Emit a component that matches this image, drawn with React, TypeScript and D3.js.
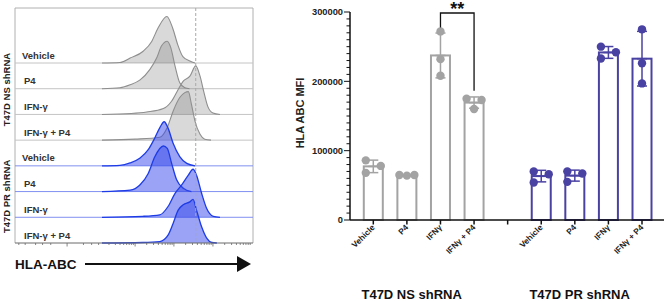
import React from 'react';
import * as d3 from 'd3';

// ---------------- Left panel: flow cytometry histograms ----------------
const rowLabels = ['Vehicle', 'P4', 'IFN-γ', 'IFN-γ + P4'];
const panelGroups = ['T47D NS shRNA', 'T47D PR shRNA'];
const axisTitle = 'HLA-ABC';

// [log10 HLA-ABC intensity, % of modal count]
const nsVehicleHist = [[2.1, 0], [2.6, 1], [2.87, 10], [3.21, 24], [3.43, 44], [3.59, 71], [3.82, 95], [3.97, 71], [4.1, 37], [4.23, 13], [4.41, 4], [4.54, 0]];
const nsP4Hist = [[2.1, 0], [2.6, 2], [2.87, 8], [3.13, 18], [3.38, 39], [3.56, 63], [3.68, 87], [3.83, 97], [3.92, 84], [4.03, 46], [4.15, 12], [4.28, 2], [4.4, 0]];
const nsIfnHist = [[2.1, 0], [2.9, 2], [3.3, 5], [3.73, 12], [3.94, 27], [4.11, 51], [4.24, 68], [4.41, 78], [4.56, 99], [4.67, 78], [4.77, 45], [4.87, 16], [5.0, 3], [5.18, 0]];
const nsIfnP4Hist = [[2.1, 0], [3.0, 2], [3.64, 6], [3.83, 26], [3.98, 59], [4.15, 87], [4.28, 97], [4.37, 99], [4.45, 73], [4.54, 39], [4.67, 12], [4.79, 2], [4.95, 0]];
const prVehicleHist = [[2.1, 0], [2.6, 1], [2.87, 6], [3.13, 16], [3.34, 33], [3.51, 57], [3.64, 78], [3.75, 90], [3.85, 77], [3.98, 46], [4.15, 19], [4.33, 5], [4.54, 0]];
const prP4Hist = [[2.1, 0], [2.87, 3], [3.13, 14], [3.34, 37], [3.51, 71], [3.73, 93], [3.83, 88], [3.94, 58], [4.07, 24], [4.24, 7], [4.45, 0]];
const prIfnHist = [[2.1, 0], [3.2, 2], [3.64, 5], [3.85, 22], [4.03, 49], [4.2, 66], [4.37, 86], [4.49, 98], [4.58, 86], [4.71, 49], [4.84, 18], [5.01, 2], [5.18, 0]];
const prIfnP4Hist = [[2.1, 0], [3.2, 1], [3.64, 3], [3.85, 16], [3.98, 40], [4.11, 67], [4.24, 78], [4.41, 84], [4.49, 89], [4.58, 67], [4.71, 33], [4.84, 10], [4.97, 1], [5.1, 0]];
const gateLog = 4.56;

// ---------------- Right panel: MFI bar chart ----------------
const barCategories = ['Vehicle', 'P4', 'IFNγ', 'IFNγ + P4'];
const barGroups = ['T47D NS shRNA', 'T47D PR shRNA'];
const nsVehicle = [86000, 78000, 68000];
const nsP4 = [65000, 65000, 64000];
const nsIfn = [272000, 232000, 208000];
const nsIfnP4 = [175000, 173000, 160000];
const prVehicle = [70000, 66000, 54000];
const prP4 = [70000, 67000, 55000];
const prIfn = [250000, 242000, 233000];
const prIfnP4 = [275000, 226000, 197000];
const yTicks = [0, 100000, 200000, 300000];
const yTitle = 'HLA ABC MFI';
const sigLabel = '**';

const W = 665;
const H = 301;
const FONT = "'Liberation Sans', Arial, Helvetica, sans-serif";

const GRAY = '#a3a3a3';
const PURPLE = '#4a42a3';

function FlowPanel() {
  const left = 15, right = 253, top = 8, bottom = 243;
  const firstBase = 63;
  const step = (bottom - firstBase) / 7;
  const base = (i: number) => bottom - (7 - i) * step;
  const x = d3.scaleSymlog().constant(18.5).domain([-380, 1e6]).range([15, 252]);
  const yH = d3.scaleLinear().domain([0, 100]).range([0, 49]);
  const hists = [nsVehicleHist, nsP4Hist, nsIfnHist, nsIfnP4Hist, prVehicleHist, prP4Hist, prIfnHist, prIfnP4Hist];

  const ticks: { v: number; major: boolean }[] = [];
  [-300, -200, -100, -60, -30, 0, 30, 60].forEach((v) => ticks.push({ v, major: v === 0 }));
  for (let n = 2; n <= 5; n++) {
    for (let k = 1; k <= 9; k++) {
      const v = k * Math.pow(10, n);
      if (v <= 1e6) ticks.push({ v, major: k === 1 && n >= 3 });
    }
  }
  const gx = x(Math.pow(10, gateLog));

  return (
    <g>
      {/* frame */}
      <line x1={left} x2={right} y1={top} y2={top} stroke="#b0b0b0" strokeWidth={1} />
      <line x1={left} x2={left} y1={top} y2={bottom} stroke="#b0b0b0" strokeWidth={1} />
      <line x1={right} x2={right} y1={top} y2={bottom} stroke="#b0b0b0" strokeWidth={1} />
      {/* row baselines */}
      {d3.range(7).map((i) => (
        <line key={'rb' + i} x1={left} x2={right} y1={base(i)} y2={base(i)} stroke={i < 4 ? '#c4c4c4' : '#8190f0'} strokeWidth={1} />
      ))}
      {/* histograms */}
      {hists.map((h, i) => {
        const b = base(i);
        const blue = i >= 4;
        const area = d3.area<number[]>()
          .x((d) => x(Math.pow(10, d[0])))
          .y0(b)
          .y1((d) => b - yH(d[1]))
          .curve(d3.curveMonotoneX);
        const line = d3.line<number[]>()
          .x((d) => x(Math.pow(10, d[0])))
          .y((d) => b - yH(d[1]))
          .curve(d3.curveMonotoneX);
        return (
          <g key={'h' + i}>
            <path d={area(h as number[][]) || ''} fill={blue ? 'rgb(53,72,236)' : 'rgb(124,124,124)'} fillOpacity={blue ? 0.5 : 0.29} />
            <path d={line(h as number[][]) || ''} fill="none" stroke={blue ? '#1e3ce6' : '#8e8e8e'} strokeWidth={blue ? 1.3 : 1.1} />
          </g>
        );
      })}
      {/* gate line */}
      <line x1={gx} x2={gx} y1={top} y2={bottom} stroke="#a8a8a8" strokeWidth={1} strokeDasharray="3,2" />
      {/* bottom axis */}
      <line x1={left} x2={right} y1={bottom} y2={bottom} stroke="#6a6a6a" strokeWidth={1} />
      {ticks.map((t, i) => (
        <line key={'t' + i} x1={x(t.v)} x2={x(t.v)} y1={bottom} y2={bottom + (t.major ? 3.5 : 2)} stroke="#6a6a6a" strokeWidth={0.8} />
      ))}
      {/* row labels */}
      {d3.range(8).map((i) => (
        <text key={'rl' + i} x={i % 4 === 0 ? 22 : 24} y={base(i) - 4.5} fontFamily={FONT} fontWeight="bold" fontSize={9.5} fill="#333">
          {rowLabels[i % 4]}
        </text>
      ))}
      {/* group labels */}
      {panelGroups.map((g, gi) => {
        const cy = d3.mean(d3.range(4).map((k) => base(gi * 4 + k))) as number - 12 + gi * 4;
        return (
          <text key={'pg' + gi} transform={`translate(9.5,${cy}) rotate(-90)`} textAnchor="middle" fontFamily={FONT} fontWeight="bold" fontSize={9.5} fill="#222">
            {g}
          </text>
        );
      })}
      {/* axis title with arrow */}
      <text x={15} y={269} fontFamily={FONT} fontWeight="bold" fontSize={13.5} fill="#111">{axisTitle}</text>
      <line x1={85} x2={238} y1={264} y2={264} stroke="#111" strokeWidth={2} />
      <path d="M237,256 L251,264 L237,272 Z" fill="#111" />
    </g>
  );
}

function BarPanel() {
  const y = d3.scaleLinear().domain([0, 300000]).range([220, 12]);
  const slots = ['NS-0', 'NS-1', 'NS-2', 'NS-3', 'gap', 'PR-0', 'PR-1', 'PR-2', 'PR-3'];
  const x = d3.scalePoint<string>().domain(slots).range([373.3, 642]);
  const series = [
    { key: 'NS-0', vals: nsVehicle, color: GRAY, cat: barCategories[0] },
    { key: 'NS-1', vals: nsP4, color: GRAY, cat: barCategories[1] },
    { key: 'NS-2', vals: nsIfn, color: GRAY, cat: barCategories[2] },
    { key: 'NS-3', vals: nsIfnP4, color: GRAY, cat: barCategories[3] },
    { key: 'PR-0', vals: prVehicle, color: PURPLE, cat: barCategories[0] },
    { key: 'PR-1', vals: prP4, color: PURPLE, cat: barCategories[1] },
    { key: 'PR-2', vals: prIfn, color: PURPLE, cat: barCategories[2] },
    { key: 'PR-3', vals: prIfnP4, color: PURPLE, cat: barCategories[3] },
  ];
  const axisX = 350;
  const r = 4.2;
  const spread = 7.5;
  const barHalf = 9.5;

  const swarm = (vals: number[]) => {
    const pts = vals.map((v) => ({ v, py: y(v), dx: 0 }));
    const sorted = [...pts].sort((a, b) => b.v - a.v);
    const placed: typeof pts = [];
    sorted.forEach((p) => {
      const overlapsAny = sorted.some((q) => q !== p && Math.abs(q.py - p.py) < 2 * r);
      if (!overlapsAny) { p.dx = 0; placed.push(p); return; }
      for (const c of [-spread, spread, 0]) {
        const clash = placed.some((q) => q.dx === c && Math.abs(q.py - p.py) < 2 * r);
        if (!clash) { p.dx = c; break; }
      }
      placed.push(p);
    });
    return pts;
  };

  const ns2 = x('NS-2') as number;
  const ns3 = x('NS-3') as number;
  const bracketTop = 13;

  return (
    <g>
      {/* y axis */}
      <line x1={axisX} x2={axisX} y1={y(300000)} y2={y(0)} stroke="#111" strokeWidth={1.5} />
      {d3.range(0, 300001, 10000).map((v) => (
        <line key={'m' + v} x1={axisX - (v % 100000 === 0 ? 6 : 3.5)} x2={axisX} y1={y(v)} y2={y(v)} stroke="#111" strokeWidth={1} />
      ))}
      {yTicks.map((v) => (
        <text key={'yl' + v} x={axisX - 7} y={y(v)} dy="0.35em" textAnchor="end" fontFamily={FONT} fontWeight="bold" fontSize={9.3} fill="#222">
          {v}
        </text>
      ))}
      <text transform={`translate(304,${(y(0) + y(300000)) / 2 - 3}) rotate(-90)`} textAnchor="middle" fontFamily={FONT} fontWeight="bold" fontSize={11} fill="#222">
        {yTitle}
      </text>
      {/* bars */}
      {series.map((s) => {
        const cx = x(s.key) as number;
        const mean = d3.mean(s.vals) as number;
        const sd = d3.deviation(s.vals) as number;
        const pts = swarm(s.vals);
        return (
          <g key={s.key}>
            <rect x={cx - barHalf} y={y(mean)} width={barHalf * 2} height={y(0) - y(mean)} fill="#fff" stroke={s.color} strokeWidth={2} />
            {pts.map((p, i) => (
              <circle key={i} cx={cx + p.dx} cy={p.py} r={r} fill={s.color} />
            ))}
            <line x1={cx} x2={cx} y1={y(mean + sd)} y2={y(mean - sd)} stroke={s.color} strokeWidth={1.5} />
            <line x1={cx - 5} x2={cx + 5} y1={y(mean + sd)} y2={y(mean + sd)} stroke={s.color} strokeWidth={1.5} />
            <line x1={cx - 5} x2={cx + 5} y1={y(mean - sd)} y2={y(mean - sd)} stroke={s.color} strokeWidth={1.5} />
            <line x1={cx - 5} x2={cx + 5} y1={y(mean)} y2={y(mean)} stroke={s.color} strokeWidth={1.5} />
          </g>
        );
      })}
      {/* x axis */}
      <line x1={axisX} x2={664} y1={y(0)} y2={y(0)} stroke="#111" strokeWidth={1.5} />
      {slots.map((k) => (
        <line key={'xt' + k} x1={x(k) as number} x2={x(k) as number} y1={y(0)} y2={y(0) + 4.5} stroke="#111" strokeWidth={1.5} />
      ))}
      {series.map((s) => {
        const cx = x(s.key) as number;
        return (
          <text key={'xl' + s.key} transform={`translate(${cx + 2},${y(0) + 8}) rotate(-45)`} textAnchor="end" fontFamily={FONT} fontWeight="bold" fontSize={8.3} fill="#222">
            {s.cat}
          </text>
        );
      })}
      {barGroups.map((g, gi) => {
        const ks = slots.filter((k) => k.startsWith(gi === 0 ? 'NS' : 'PR'));
        const c = (d3.mean(ks.map((k) => x(k) as number)) as number) - 12;
        return (
          <text key={'bg' + gi} x={c} y={299} textAnchor="middle" fontFamily={FONT} fontWeight="bold" fontSize={13} fill="#111">
            {g}
          </text>
        );
      })}
      {/* significance bracket */}
      <path
        d={`M${ns2},${y(d3.max(nsIfn) as number) - 4} V${bracketTop} H${ns3} V${y(d3.max(nsIfnP4) as number) - 8}`}
        fill="none" stroke="#111" strokeWidth={1.3}
      />
      <text x={(ns2 + ns3) / 2} y={15} textAnchor="middle" fontFamily={FONT} fontWeight="bold" fontSize={18} fill="#111">{sigLabel}</text>
    </g>
  );
}

export default function App() {
  return (
    <svg width={W} height={H} viewBox={`0 0 ${W} ${H}`} style={{ position: 'absolute', left: 0, top: 0, background: '#fff' }}>
      <rect width={W} height={H} fill="#fff" />
      <FlowPanel />
      <BarPanel />
    </svg>
  );
}
